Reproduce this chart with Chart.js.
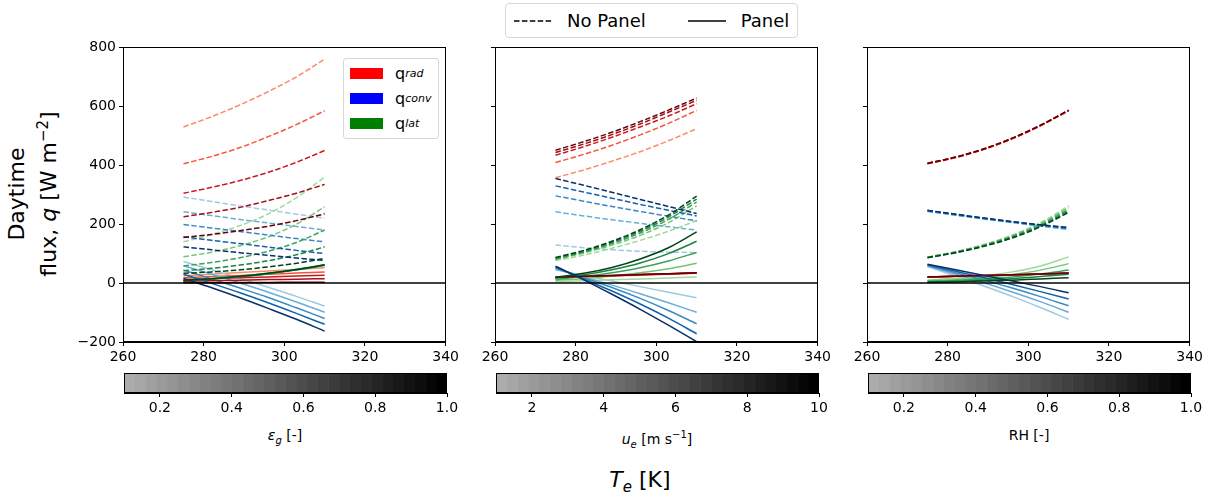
<!DOCTYPE html>
<html>
<head>
<meta charset="utf-8">
<script src="https://cdn.jsdelivr.net/npm/chart.js@4.4.0/dist/chart.umd.min.js"></script>
<style>
    body { margin: 0; background: #fff; width: 1214px; height: 497px; position: relative; overflow: hidden;
           font-family: "DejaVu Sans", sans-serif; color: #000; }
    .abs { position: absolute; }
    canvas { display: block; }
    .cb-label { position: absolute; width: 324px; text-align: center; font-size: 14px; }
    .flux-legend { left: 343px; top: 58px; width: 94px; height: 79px; border: 1px solid #d6d6d6; border-radius: 3px; background: #fff; }
    .flux-row { position: absolute; left: 6px; height: 20px; display: flex; align-items: center; font-size: 16px; }
    .flux-row span.patch { display: inline-block; width: 33px; height: 11px; margin-right: 12px; }
    .flux-row sub { font-size: 11px; font-style: italic; vertical-align: -4px; }
    .style-legend { left: 505px; top: 3px; height: 33px; border: 1px solid #d6d6d6; border-radius: 4px;
                    display: flex; align-items: center; padding: 0 8px; font-size: 18px; background: #fff; }
</style>
</head>
<body>
<div id="root"></div>
<script>
// ---- data ----
const TE = [275, 282, 289, 296, 303, 310];
const X_TICKS = [260, 280, 300, 320, 340];
const Y_TICKS = [-200, 0, 200, 400, 600, 800];
const ZERO_LINE = [0, 0];

// panel 1: ground emissivity (light -> dark = low -> high)
const EPS_RAD_NOPANEL = [
    [530, 565, 605, 650, 700, 760],
    [405, 430, 460, 497, 538, 585],
    [305, 325, 348, 376, 410, 450],
    [225, 240, 257, 280, 305, 335],
    [155, 165, 178, 193, 212, 235]
];
const EPS_CONV_NOPANEL = [
    [292, 277, 262, 248, 234, 220],
    [242, 229, 216, 204, 192, 180],
    [199, 187, 175, 163, 151, 140],
    [157, 145, 134, 122, 111, 100],
    [123, 113, 103, 94, 85, 77]
];
const EPS_LAT_NOPANEL = [
    [140, 165, 195, 235, 290, 360],
    [89, 105, 127, 157, 200, 259],
    [58, 70, 86, 108, 138, 180],
    [42, 50, 61, 76, 96, 123],
    [33, 38, 45, 55, 67, 84]
];
const EPS_RAD_PANEL = [
    [25, 30, 36, 41, 46, 52],
    [18, 22, 26, 30, 34, 38],
    [12, 15, 18, 21, 24, 27],
    [6, 8, 10, 12, 13, 15],
    [1, 1, 2, 2, 3, 3]
];
const EPS_CONV_PANEL = [
    [73, 45, 16, -14, -45, -78],
    [59, 30, 0, -31, -64, -99],
    [44, 14, -17, -49, -84, -120],
    [30, -1, -33, -67, -103, -140],
    [16, -16, -50, -86, -123, -163]
];
const EPS_LAT_PANEL = [
    [10, 16, 24, 34, 47, 62],
    [9, 15, 23, 33, 46, 61],
    [8, 14, 22, 32, 45, 60],
    [8, 14, 22, 32, 45, 61],
    [9, 15, 23, 33, 46, 62]
];

// panel 2: wind speed
const UE_RAD_NOPANEL = [
    [358, 384, 414, 446, 483, 524],
    [409, 437, 468, 503, 542, 586],
    [434, 463, 495, 530, 567, 609],
    [443, 472, 504, 540, 580, 620],
    [451, 480, 512, 548, 587, 628]
];
const UE_CONV_NOPANEL = [
    [129, 120, 113, 108, 105, 104],
    [242, 228, 215, 203, 191, 180],
    [296, 278, 260, 243, 227, 211],
    [330, 309, 288, 267, 247, 228],
    [355, 332, 308, 284, 260, 236]
];
const UE_LAT_NOPANEL = [
    [76, 95, 118, 145, 176, 212],
    [80, 102, 129, 162, 205, 262],
    [82, 105, 134, 170, 216, 275],
    [85, 108, 138, 176, 224, 285],
    [87, 111, 142, 181, 231, 295]
];
const UE_RAD_PANEL = [
    [18, 21, 24, 27, 30, 33],
    [19, 22, 25, 28, 31, 34],
    [19, 22, 25, 28, 31, 34],
    [20, 23, 26, 29, 32, 35],
    [20, 23, 26, 29, 32, 35]
];
const UE_CONV_PANEL = [
    [45, 26, 7, -12, -31, -50],
    [48, 21, -7, -36, -67, -99],
    [51, 18, -15, -52, -93, -138],
    [54, 14, -27, -71, -119, -172],
    [57, 11, -38, -89, -143, -199]
];
const UE_LAT_PANEL = [
    [5, 8, 11, 14, 17, 21],
    [9, 15, 24, 35, 49, 67],
    [13, 22, 35, 52, 75, 104],
    [17, 28, 45, 68, 100, 142],
    [20, 33, 53, 82, 120, 174]
];

// panel 3: relative humidity
const RH_RAD_NOPANEL = [
    [405, 426, 454, 490, 534, 585],
    [405, 426, 454, 490, 534, 585],
    [406, 427, 455, 491, 535, 586],
    [406, 427, 455, 491, 535, 586],
    [407, 428, 456, 492, 536, 587]
];
const RH_CONV_NOPANEL = [
    [243, 230, 217, 205, 193, 181],
    [244, 231, 218, 206, 194, 183],
    [245, 232, 219, 207, 195, 185],
    [246, 233, 220, 208, 197, 187],
    [247, 234, 221, 209, 198, 189]
];
const RH_LAT_NOPANEL = [
    [88, 107, 131, 163, 205, 262],
    [88, 106, 130, 161, 202, 256],
    [87, 105, 128, 158, 198, 250],
    [87, 104, 126, 155, 194, 245],
    [86, 103, 125, 153, 191, 240]
];
const RH_RAD_PANEL = [
    [21, 23, 26, 28, 31, 33],
    [21, 23, 26, 28, 31, 33],
    [21, 23, 26, 28, 31, 33],
    [21, 23, 26, 28, 31, 33],
    [21, 23, 26, 28, 31, 34]
];
const RH_CONV_PANEL = [
    [56, 24, -10, -45, -83, -123],
    [58, 30, 1, -30, -63, -99],
    [60, 35, 10, -17, -46, -77],
    [62, 40, 18, -5, -29, -54],
    [64, 45, 26, 7, -12, -33]
];
const RH_LAT_PANEL = [
    [10, 16, 25, 38, 58, 89],
    [8, 12, 19, 29, 44, 66],
    [6, 9, 14, 21, 31, 44],
    [4, 6, 10, 15, 22, 30],
    [2, 4, 7, 10, 14, 18]
];

// colorbar ranges and ticks
const EPS_RANGE = [0.1, 1.0];
const EPS_TICKS = [0.2, 0.4, 0.6, 0.8, 1.0];
const UE_RANGE = [1, 10];
const UE_TICKS = [2, 4, 6, 8, 10];
const RH_RANGE = [0.1, 1.0];
const RH_TICKS = [0.2, 0.4, 0.6, 0.8, 1.0];

// ---- styling ----
const FONT = 'DejaVu Sans';
const REDS = ['#fc8a6a', '#f5553c', '#cb181d', '#a50f15', '#67000d'];
const BLUES = ['#9ecae1', '#6aaed6', '#3a8ac2', '#1361a9', '#08306b'];
const GREENS = ['#a1d99b', '#74c476', '#3aa357', '#1a843f', '#00441b'];
const DASH = [5.5, 2.4];
const CB_STEPS = 30;

const PLOT_W = 324, PLOT_H = 296, PLOT_TOP = 46;
const PANEL_LEFTS = [123, 495, 867];
const PAD_L = 50, PAD_T = 10, PAD_R = 15, AX_H = 30;

const root = document.getElementById('root');

// draws a matplotlib-like box around the plotting area
const framePlugin = {
    id: 'frame',
    afterDraw(chart) {
        const a = chart.chartArea;
        const ctx = chart.ctx;
        ctx.save();
        ctx.strokeStyle = '#000';
        ctx.lineWidth = 1;
        ctx.strokeRect(Math.round(a.left) + 0.5, Math.round(a.top) + 0.5,
            Math.round(a.right - a.left) - 1, Math.round(a.bottom - a.top) - 1);
        ctx.restore();
    }
};

function makeCanvas(left, top, width, height) {
    const c = document.createElement('canvas');
    c.width = width;
    c.height = height;
    c.className = 'abs';
    c.style.left = left + 'px';
    c.style.top = top + 'px';
    c.style.width = width + 'px';
    c.style.height = height + 'px';
    root.appendChild(c);
    return c;
}

function lineSet(values, color, dashed) {
    return {
        data: TE.map((t, i) => ({ x: t, y: values[i] })),
        borderColor: color,
        borderWidth: 1.5,
        borderDash: dashed ? DASH : [],
        pointRadius: 0,
        cubicInterpolationMode: 'monotone',
        fill: false
    };
}

function buildPanel(index, groups, showYLabels) {
    // draw order: light first, dark last (Chart.js paints dataset 0 on top, so reverse)
    const sets = [];
    for (let k = 0; k < 5; k++) {
        sets.push(lineSet(groups.radNo[k], REDS[k], true));
        sets.push(lineSet(groups.convNo[k], BLUES[k], true));
        sets.push(lineSet(groups.latNo[k], GREENS[k], true));
        sets.push(lineSet(groups.radP[k], REDS[k], false));
        sets.push(lineSet(groups.convP[k], BLUES[k], false));
        sets.push(lineSet(groups.latP[k], GREENS[k], false));
    }
    sets.push({
        data: [{ x: X_TICKS[0], y: ZERO_LINE[0] }, { x: X_TICKS[X_TICKS.length - 1], y: ZERO_LINE[1] }],
        borderColor: '#000', borderWidth: 1.5, pointRadius: 0
    });
    sets.reverse();

    const left = PANEL_LEFTS[index] - PAD_L;
    const top = PLOT_TOP - PAD_T;
    const canvas = makeCanvas(left, top, PLOT_W + PAD_L + PAD_R, PLOT_H + PAD_T + AX_H);

    const tickFont = { family: FONT, size: 14 };
    new Chart(canvas.getContext('2d'), {
        type: 'line',
        data: { datasets: sets },
        options: {
            responsive: false,
            animation: false,
            layout: { padding: { top: PAD_T, right: PAD_R, left: 0, bottom: 0 } },
            plugins: { legend: { display: false }, tooltip: { enabled: false } },
            scales: {
                x: {
                    type: 'linear',
                    min: X_TICKS[0],
                    max: X_TICKS[X_TICKS.length - 1],
                    afterBuildTicks: (s) => { s.ticks = X_TICKS.map(v => ({ value: v })); },
                    afterFit: (s) => { s.height = AX_H; },
                    grid: { drawOnChartArea: false, tickLength: 4, color: '#000', lineWidth: 1 },
                    border: { color: '#000' },
                    ticks: { color: '#000', font: tickFont, padding: 3, maxRotation: 0 }
                },
                y: {
                    type: 'linear',
                    min: Y_TICKS[0],
                    max: Y_TICKS[Y_TICKS.length - 1],
                    afterBuildTicks: (s) => { s.ticks = Y_TICKS.map(v => ({ value: v })); },
                    afterFit: (s) => { s.width = PAD_L; },
                    grid: { drawOnChartArea: false, tickLength: 4, color: '#000', lineWidth: 1 },
                    border: { color: '#000' },
                    ticks: {
                        color: '#000', font: tickFont, padding: 3,
                        callback: (v) => showYLabels ? String(v).replace('-', '\u2212') : ''
                    }
                }
            }
        },
        plugins: [framePlugin]
    });
}

function buildColorbar(index, range, ticks, decimals) {
    const cbLeft = PANEL_LEFTS[index] + 1;
    const cbW = PLOT_W - 1, cbH = 20, padX = 20, padT = 5;
    const canvas = makeCanvas(cbLeft - padX, 373 - padT, cbW + 2 * padX, cbH + padT + AX_H);

    const step = (range[1] - range[0]) / CB_STEPS;
    const sets = [];
    for (let i = 0; i < CB_STEPS; i++) {
        const g = Math.round(172 * (1 - i / (CB_STEPS - 1)));
        sets.push({
            data: [[range[0] + i * step, range[0] + (i + 1) * step]],
            backgroundColor: `rgb(${g}, ${g}, ${g})`,
            borderWidth: 0,
            barPercentage: 1,
            categoryPercentage: 1,
            grouped: false
        });
    }

    new Chart(canvas.getContext('2d'), {
        type: 'bar',
        data: { labels: [''], datasets: sets },
        options: {
            indexAxis: 'y',
            responsive: false,
            animation: false,
            layout: { padding: { top: padT, left: padX, right: padX, bottom: 0 } },
            plugins: { legend: { display: false }, tooltip: { enabled: false } },
            scales: {
                y: { display: false },
                x: {
                    type: 'linear',
                    min: range[0],
                    max: range[1],
                    afterBuildTicks: (s) => { s.ticks = ticks.map(v => ({ value: v })); },
                    afterFit: (s) => { s.height = AX_H; },
                    grid: { drawOnChartArea: false, tickLength: 4, color: '#000' },
                    border: { color: '#000' },
                    ticks: {
                        color: '#000', font: { family: FONT, size: 14 }, padding: 3, maxRotation: 0,
                        callback: (v) => v.toFixed(decimals)
                    }
                }
            }
        },
        plugins: [framePlugin]
    });
}

function addText(html, cls, style) {
    const d = document.createElement('div');
    d.className = cls;
    Object.assign(d.style, style);
    d.innerHTML = html;
    root.appendChild(d);
    return d;
}

// ---- panels ----
buildPanel(0, {
    radNo: EPS_RAD_NOPANEL, convNo: EPS_CONV_NOPANEL, latNo: EPS_LAT_NOPANEL,
    radP: EPS_RAD_PANEL, convP: EPS_CONV_PANEL, latP: EPS_LAT_PANEL
}, true);
buildPanel(1, {
    radNo: UE_RAD_NOPANEL, convNo: UE_CONV_NOPANEL, latNo: UE_LAT_NOPANEL,
    radP: UE_RAD_PANEL, convP: UE_CONV_PANEL, latP: UE_LAT_PANEL
}, false);
buildPanel(2, {
    radNo: RH_RAD_NOPANEL, convNo: RH_CONV_NOPANEL, latNo: RH_LAT_NOPANEL,
    radP: RH_RAD_PANEL, convP: RH_CONV_PANEL, latP: RH_LAT_PANEL
}, false);

buildColorbar(0, EPS_RANGE, EPS_TICKS, 1);
buildColorbar(1, UE_RANGE, UE_TICKS, 0);
buildColorbar(2, RH_RANGE, RH_TICKS, 1);

// colorbar labels
const cbLabels = [
    '<i>\u03b5<sub style="font-size:10px">g</sub></i> [-]',
    '<i>u<sub style="font-size:10px">e</sub></i> [m s<sup style="font-size:10px">\u22121</sup>]',
    'RH [-]'
];
cbLabels.forEach((html, i) => {
    addText(html, 'cb-label', { left: PANEL_LEFTS[i] + 'px', top: '425px', lineHeight: '20px' });
});

// y axis title (two lines, rotated)
addText('Daytime<br>flux, <i>q</i> [W m<sup style="font-size:15px">\u22122</sup>]', 'abs', {
    left: (31 - 110) + 'px', top: (194 - 27) + 'px', width: '220px', height: '54px',
    textAlign: 'center', fontSize: '22px', lineHeight: '26px', transform: 'rotate(-90deg)'
});

// common x title
addText('<i>T</i><sub style="font-size:15px"><i>e</i></sub> [K]', 'abs', {
    left: '540px', top: '466px', width: '200px', textAlign: 'center', fontSize: '22px', lineHeight: '28px'
});

// flux legend inside panel 1
const flux = addText('', 'abs flux-legend', {});
[['#ff0000', 'rad'], ['#0000ff', 'conv'], ['#008000', 'lat']].forEach((item, i) => {
    const row = document.createElement('div');
    row.className = 'flux-row';
    row.style.top = (4 + i * 25) + 'px';
    row.innerHTML = `<span class="patch" style="background:${item[0]}"></span>q<sub>${item[1]}</sub>`;
    flux.appendChild(row);
});

// line-style legend on top
addText(
    '<svg width="38" height="4"><line x1="0" y1="2" x2="38" y2="2" stroke="#000" stroke-width="1.5" stroke-dasharray="5.5,2.4"/></svg>' +
    '<span style="margin:0 42px 0 15px">No Panel</span>' +
    '<svg width="38" height="4"><line x1="0" y1="2" x2="38" y2="2" stroke="#000" stroke-width="1.5"/></svg>' +
    '<span style="margin-left:15px">Panel</span>',
    'abs style-legend', {}
);
</script>
</body>
</html>
